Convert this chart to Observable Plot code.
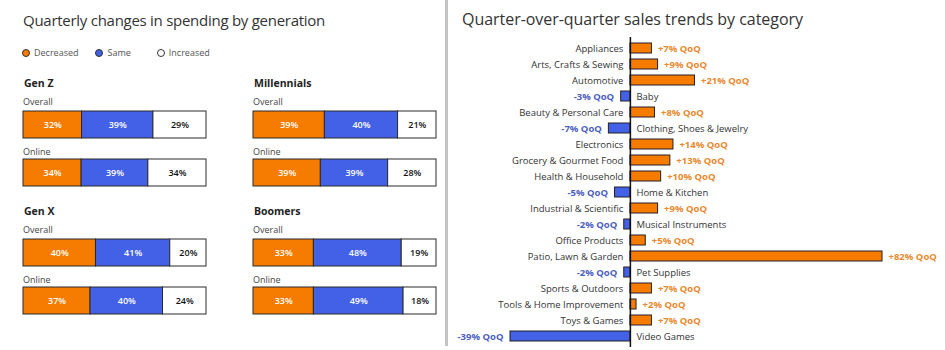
<!DOCTYPE html>
<html>
<head>
<meta charset="utf-8">
<script src="https://cdn.jsdelivr.net/npm/d3@7"></script>
<script src="https://cdn.jsdelivr.net/npm/@observablehq/plot@0.6"></script>
<style>
  html, body { margin: 0; padding: 0; background: #fff; }
  body { width: 945px; height: 350px; position: relative; overflow: hidden; font-family: "Open Sans", sans-serif; color: #333; }
  .abs { position: absolute; white-space: nowrap; }
  .title { font-size: 15px; color: #333; line-height: 1; }
  .gen { font-size: 10.5px; font-weight: 700; color: #222; line-height: 1; }
  .sub { font-size: 9px; color: #444; line-height: 1; }
  .legend { font-size: 9px; color: #555; line-height: 1; display: flex; align-items: center; }
  .dot { display: inline-block; width: 6px; height: 6px; border-radius: 50%; border: 1px solid #333; margin-right: 4px; }
  .divider { position: absolute; left: 445px; top: 0; width: 3px; height: 346px; background: #c4c4c4; }
  svg { display: block; }
</style>
</head>
<body>
<script>
// ---------- data: left panel ----------
const generations = ["Gen Z", "Millennials", "Gen X", "Boomers"];
const responses = ["Decreased", "Same", "Increased"];
const overallDecreased = [32, 39, 40, 33];
const overallSame      = [39, 40, 41, 48];
const overallIncreased = [29, 21, 20, 19];
const onlineDecreased  = [34, 39, 37, 33];
const onlineSame       = [39, 39, 40, 49];
const onlineIncreased  = [34, 28, 24, 18];

// ---------- data: right panel ----------
const categories = [
  "Appliances", "Arts, Crafts & Sewing", "Automotive", "Baby", "Beauty & Personal Care",
  "Clothing, Shoes & Jewelry", "Electronics", "Grocery & Gourmet Food", "Health & Household",
  "Home & Kitchen", "Industrial & Scientific", "Musical Instruments", "Office Products",
  "Patio, Lawn & Garden", "Pet Supplies", "Sports & Outdoors", "Tools & Home Improvement",
  "Toys & Games", "Video Games"
];
const qoqChange = [7, 9, 21, -3, 8, -7, 14, 13, 10, -5, 9, -2, 5, 82, -2, 7, 2, 7, -39];

const ORANGE = "#f57c00";
const BLUE = "#4361e6";
const responseColors = {Decreased: ORANGE, Same: BLUE, Increased: "#ffffff"};

const body = document.body;
function addDiv(cls, text, left, top) {
  const d = document.createElement("div");
  d.className = "abs " + cls;
  d.textContent = text;
  d.style.left = left + "px";
  d.style.top = top + "px";
  body.appendChild(d);
  return d;
}
function place(node, left, top) {
  node.style.position = "absolute";
  node.style.left = left + "px";
  node.style.top = top + "px";
  body.appendChild(node);
}
function fitWidth(el, target) {
  const n = el.textContent.length;
  const w = el.getBoundingClientRect().width;
  el.style.letterSpacing = ((target - w) / n) + "px";
}

// ---------- left panel ----------
const t1 = addDiv("title", "Quarterly changes in spending by generation", 23, 13);
fitWidth(t1, 302);

const legend = document.createElement("div");
legend.className = "abs legend";
legend.style.left = "22px"; legend.style.top = "48px";
responses.forEach((r, i) => {
  const item = document.createElement("span");
  item.style.display = "inline-flex";
  item.style.alignItems = "center";
  item.style.marginRight = (i === 0 ? 17 : 26) + "px";
  const dot = document.createElement("span");
  dot.className = "dot";
  dot.style.background = responseColors[r];
  item.appendChild(dot);
  item.appendChild(document.createTextNode(r));
  legend.appendChild(item);
});
body.appendChild(legend);

function stackBar(values) {
  const data = responses.map((r, i) => ({response: r, value: values[i]}));
  return Plot.plot({
    width: 185, height: 29,
    marginLeft: 1, marginRight: 1, marginTop: 1, marginBottom: 1,
    x: {domain: [0, 1], axis: null},
    color: {type: "identity"},
    style: {fontFamily: "Open Sans, sans-serif", background: "transparent"},
    marks: [
      Plot.barX(data, Plot.stackX({x: "value", offset: "normalize", order: null,
        fill: d => responseColors[d.response], stroke: "#2a2a2a", strokeWidth: 1})),
      Plot.text(data, Plot.stackX({x: "value", offset: "normalize", order: null,
        text: d => d.value + "%",
        fill: d => d.response === "Increased" ? "#111" : "#ffffff",
        fontWeight: 600,
        fontSize: 9}))
    ]
  });
}

const colX = [23, 253, 23, 253];
const rowY = [0, 0, 128, 128];
generations.forEach((g, i) => {
  const x = colX[i], y0 = rowY[i];
  addDiv("gen", g, x + 1, 78 + y0);
  addDiv("sub", "Overall", x, 97 + y0);
  place(stackBar([overallDecreased[i], overallSame[i], overallIncreased[i]]), x - 1, 110 + y0);
  addDiv("sub", "Online", x, 147 + y0);
  place(stackBar([onlineDecreased[i], onlineSame[i], onlineIncreased[i]]), x - 1, 158 + y0);
});

// divider
const div = document.createElement("div");
div.className = "divider";
body.appendChild(div);

// ---------- right panel ----------
const t2 = addDiv("title", "Quarter-over-quarter sales trends by category", 462, 11);
t2.style.fontSize = "16px";
fitWidth(t2, 341);

const trend = categories.map((c, i) => ({category: c, value: qoqChange[i]}));
const pos = trend.filter(d => d.value > 0);
const neg = trend.filter(d => d.value < 0);
const fmt = v => (v > 0 ? "+" : "") + v + "% QoQ";
const right = Plot.plot({
  width: 495, height: 313,
  marginLeft: 60, marginRight: 63, marginTop: 0, marginBottom: 3,
  x: {domain: [-39, 82], axis: null},
  y: {domain: categories, axis: null, padding: 0.375},
  color: {type: "identity"},
  style: {fontFamily: "Open Sans, sans-serif", background: "transparent"},
  marks: [
    Plot.barX(trend, {x: "value", y: "category",
      fill: d => d.value > 0 ? ORANGE : BLUE, stroke: "#222", strokeWidth: 1}),
    Plot.ruleX([0], {stroke: "#111", strokeWidth: 1.5}),
    Plot.text(pos, {x: 0, y: "category", text: "category",
      textAnchor: "end", dx: -7, fill: "#333", fontSize: 9.5}),
    Plot.text(neg, {x: 0, y: "category", text: "category",
      textAnchor: "start", dx: 6, fill: "#333", fontSize: 9.5}),
    Plot.text(pos, {x: "value", y: "category", text: d => fmt(d.value),
      textAnchor: "start", dx: 6, fill: "#e8892e", fontWeight: 700, fontSize: 9.5}),
    Plot.text(neg, {x: "value", y: "category", text: d => fmt(d.value),
      textAnchor: "end", dx: -7, fill: "#4d5fbd", fontWeight: 700, fontSize: 9.5})
  ]
});
place(right, 450, 37);
</script>
</body>
</html>
